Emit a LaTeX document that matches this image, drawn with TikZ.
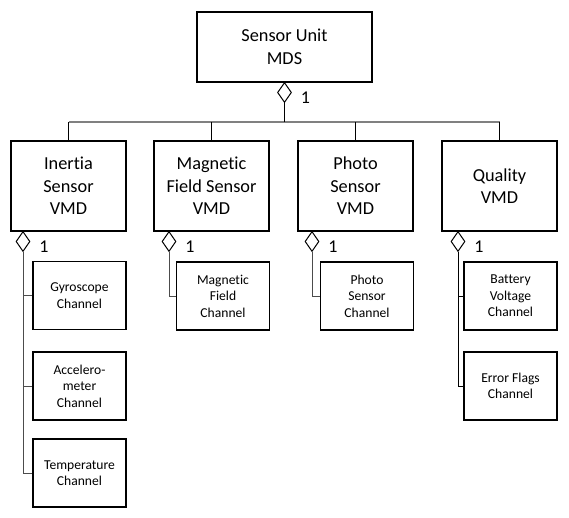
\documentclass[tikz,border=0pt]{standalone}
\usepackage{fontspec}
\setmainfont{Carlito}[Ligatures={NoCommon}]
\usetikzlibrary{shapes.geometric}
\begin{document}
\begin{tikzpicture}[x=1pt,y=-1pt,
  bigbox/.style={draw, line width=1.5pt, align=center, minimum width=115pt, minimum height=90pt, inner sep=2pt, font=\fontsize{18.3}{22.5}\selectfont},
  topbox/.style={bigbox, minimum width=175pt, minimum height=70pt},
  chanbox/.style={draw, line width=1.5pt, align=center, minimum width=93pt, minimum height=68pt, inner sep=2pt, font=\fontsize{13.6}{16.5}\selectfont},
  agg/.style={draw, shape=diamond, fill=white, line width=1pt, minimum width=14pt, minimum height=20pt, inner sep=0pt, anchor=north},
  lab/.style={font=\fontsize{18}{22}\selectfont, inner sep=0pt},
  conn/.style={line width=1pt, black},
  busline/.style={line width=1.2pt, black!50},
  chline/.style={line width=1pt, black!70}
]
\useasboundingbox (0,0) rectangle (569,518);

\node[topbox] (top) at (284.5,47) {Sensor Unit\\MDS};
\node[bigbox] (b1) at (68.5,186) {Inertia\\Sensor\\VMD};
\node[bigbox] (b2) at (211.5,186) {Magnetic\\Field Sensor\\VMD};
\node[bigbox] (b3) at (355.5,186) {Photo\\Sensor\\VMD};
\node[bigbox] (b4) at (499.5,186) {Quality\\VMD};

\node[chanbox] (g1) at (79.5,295.5) {Gyroscope\\Channel};
\node[chanbox] (g2) at (79.5,386) {Accelero-\\meter\\Channel};
\node[chanbox] (g3) at (79.5,473) {Temperature\\Channel};
\node[chanbox] (m1) at (223,296) {Magnetic\\Field\\Channel};
\node[chanbox] (p1) at (367,296) {Photo\\Sensor\\Channel};
\node[chanbox] (q1) at (510.5,296) {Battery\\Voltage\\Channel};
\node[chanbox] (q2) at (510.5,386) {Error Flags\\Channel};

\node[agg] (d0) at (284.5,82) {};
\node[agg] (d1) at (23,231) {};
\node[agg] (d2) at (169,231) {};
\node[agg] (d3) at (312,231) {};
\node[agg] (d4) at (458,231) {};

\node[lab] (l0) at ([xshift=21pt,yshift=-5pt]d0.center) {1};
\node[lab] (l1) at ([xshift=21pt,yshift=-5pt]d1.center) {1};
\node[lab] (l2) at ([xshift=21pt,yshift=-5pt]d2.center) {1};
\node[lab] (l3) at ([xshift=21pt,yshift=-5pt]d3.center) {1};
\node[lab] (l4) at ([xshift=21pt,yshift=-5pt]d4.center) {1};

\coordinate (bus) at (284.5,122);
\draw[busline] (b1.north |- bus) -- (b4.north |- bus);
\draw[conn] (d0.south) -- (bus);
\draw[conn] (b1.north) -- (b1.north |- bus);
\draw[conn] (b2.north) -- (b2.north |- bus);
\draw[conn] (b3.north) -- (b3.north |- bus);
\draw[conn] (b4.north) -- (b4.north |- bus);

\draw[chline] (d1.south) |- (g3.west);
\draw[chline] (d1.south |- g1.west) -- (g1.west);
\draw[chline] (d1.south |- g2.west) -- (g2.west);
\draw[chline] (d2.south) |- (m1.west);
\draw[chline] (d3.south) |- (p1.west);
\draw[conn] (d4.south) |- (q2.west);
\draw[conn] (d4.south |- q1.west) -- (q1.west);
\end{tikzpicture}
\end{document}
